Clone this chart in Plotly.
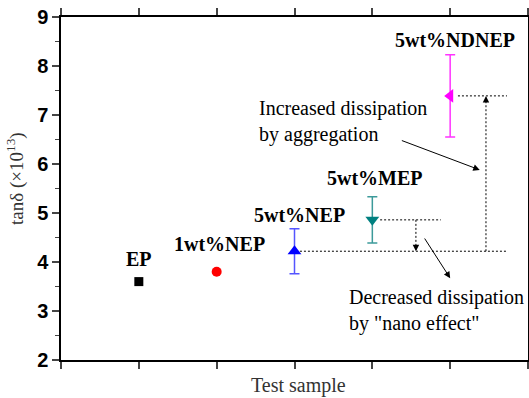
import plotly.graph_objects as go

categories = ["EP", "1wt%NEP", "5wt%NEP", "5wt%MEP", "5wt%NDNEP"]
tan_delta = [3.60, 3.80, 4.22, 4.86, 7.39]
errors = [0.0, 0.0, 0.46, 0.47, 0.84]
positions = [1, 2, 3, 4, 5]
y_ticks = [2, 3, 4, 5, 6, 7, 8, 9]
marker_symbols = ["square", "circle", "triangle-up", "triangle-down", "triangle-left"]
marker_colors = ["#000000", "#ff0000", "#0000ff", "#008080", "#ff00ff"]
error_colors = ["#000000", "#ff0000", "#5555ff", "#3c9a9a", "#ff33ff"]
marker_sizes = [9, 10, 12, 12, 12]
label_offsets = [0.46, 0.57, 0.74, 0.85, 1.14]   # label height above point (data units)
label_dx = [0.0, 0.04, 0.07, 0.03, 0.06]

SERIF = "Liberation Serif"
SANS = "Liberation Sans"

fig = go.Figure()
for i, cat in enumerate(categories):
    ey = dict(type="data", array=[errors[i]], color=error_colors[i], thickness=1.5, width=5,
              visible=errors[i] > 0)
    fig.add_trace(go.Scatter(
        x=[positions[i]], y=[tan_delta[i]], mode="markers", name=cat,
        marker=dict(symbol=marker_symbols[i], color=marker_colors[i], size=marker_sizes[i]),
        error_y=ey, showlegend=False))
    fig.add_annotation(x=positions[i] + label_dx[i], y=tan_delta[i] + label_offsets[i],
                       text="<b>%s</b>" % cat, showarrow=False,
                       font=dict(family=SERIF, size=20, color="#000000"))

# dotted guide lines
ndnep, nep, mep = tan_delta[4], tan_delta[2], tan_delta[3]
dot = dict(color="#000000", width=1, dash="2px,2px")
fig.add_shape(type="line", x0=5.10, x1=5.73, y0=ndnep, y1=ndnep, line=dot)
fig.add_shape(type="line", x0=3.07, x1=5.73, y0=nep, y1=nep, line=dot)
fig.add_shape(type="line", x0=4.10, x1=4.88, y0=mep, y1=mep, line=dot)
fig.add_shape(type="line", x0=5.46, x1=5.46, y0=nep, y1=ndnep - 0.1, line=dot)
fig.add_shape(type="line", x0=4.56, x1=4.56, y0=mep, y1=nep + 0.1, line=dot)
# arrowheads of dotted arrows
arr = dict(showarrow=True, arrowhead=2, arrowsize=1.3, arrowwidth=1, arrowcolor="#000000", text="",
           axref="x", ayref="y")
fig.add_annotation(x=5.46, y=ndnep, ax=5.46, ay=ndnep - 0.15, **arr)
fig.add_annotation(x=4.56, y=nep, ax=4.56, ay=nep + 0.15, **arr)
# solid arrows
fig.add_annotation(x=5.38, y=5.88, ax=4.36, ay=6.49, **arr)
fig.add_annotation(x=5.0, y=3.67, ax=4.66, ay=4.51, **arr)
# text notes
fig.add_annotation(x=2.52, y=6.86, xanchor="left", showarrow=False, align="left",
                   text="Increased dissipation<br>by aggregation",
                   font=dict(family=SERIF, size=20, color="#000000"))
fig.add_annotation(x=3.67, y=3.02, xanchor="left", showarrow=False, align="left",
                   text="Decreased dissipation<br>by \"nano effect\"",
                   font=dict(family=SERIF, size=20, color="#000000"))
# axis titles
fig.add_annotation(xref="paper", yref="paper", x=0.5075, y=-0.073, xanchor="center", yanchor="middle",
                   showarrow=False,
                   text="Test sample", font=dict(family=SERIF, size=20, color="#333333"))
fig.add_annotation(xref="paper", yref="paper", x=-0.097, y=0.53, xanchor="center", yanchor="middle",
                   showarrow=False, textangle=-90,
                   text="tanδ (×10<sup>13</sup>)", font=dict(family=SERIF, size=19, color="#333333"))

fig.update_xaxes(range=[0, 6], tickmode="array", tickvals=[0, 1, 2, 3, 4, 5, 6],
                 showticklabels=False, ticks="outside", ticklen=7, tickwidth=1.5,
                 showline=True, linecolor="#000000", linewidth=1.5, mirror="ticks",
                 showgrid=False, zeroline=False, automargin=False)
fig.update_yaxes(range=[2, 9], tickmode="array", tickvals=y_ticks,
                 ticktext=["<b>%d</b>" % v for v in y_ticks],
                 ticks="outside", ticklen=7, tickwidth=1.5,
                 minor=dict(dtick=0.5, ticks="outside", ticklen=4, tickwidth=1.2),
                 showline=True, linecolor="#000000", linewidth=1.5, mirror="ticks",
                 showgrid=False, zeroline=False, automargin=False,
                 tickfont=dict(family=SANS, size=20, color="#000000"))
fig.update_layout(width=529, height=398, margin=dict(l=61, r=1, t=17, b=38),
                  plot_bgcolor="#ffffff", paper_bgcolor="#ffffff")
fig.write_html("out.html", config={"displayModeBar": False},
               post_script="document.body.style.margin='0px';")
